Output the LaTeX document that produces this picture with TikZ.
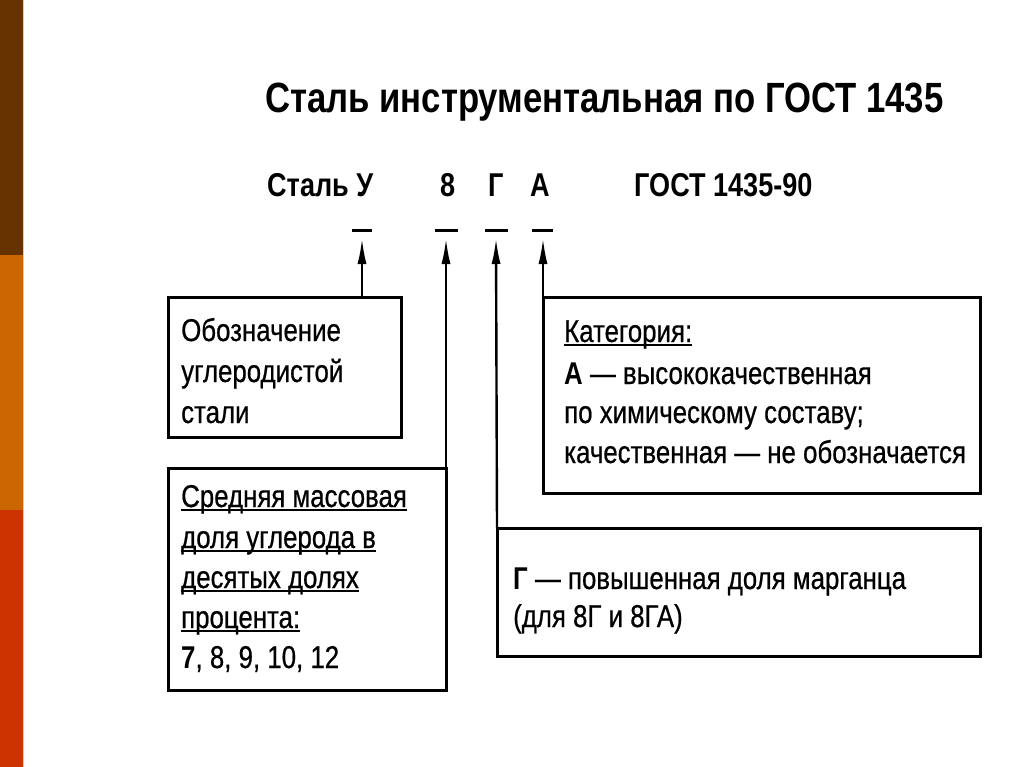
\documentclass[tikz,border=0pt]{standalone}
\usepackage{fontspec}
\setmainfont{Liberation Sans}[FakeStretch=0.82, UprightFeatures={FakeBold=0.6}]
\usetikzlibrary{arrows.meta}
\definecolor{stripA}{HTML}{663300}
\definecolor{stripB}{HTML}{CC6600}
\definecolor{stripC}{HTML}{CC3300}
\definecolor{stripEdge}{HTML}{F2C890}
\newlength\ulwidth
\newcommand\ulin[1]{\settowidth\ulwidth{#1}\rlap{\rule[-4pt]{\ulwidth}{1.8pt}}#1}
\tikzset{
  txt/.style={anchor=base west, inner sep=0pt, font=\fontsize{31.5}{36}\selectfont},
  hdr/.style={anchor=base west, inner sep=0pt, font=\fontsize{33}{38}\selectfont\bfseries},
  ttl/.style={anchor=base west, inner sep=0pt, font=\fontsize{42.3}{48}\selectfont\bfseries},
  boxline/.style={line width=3pt},
  bar/.style={line width=3pt},
  conn/.style={line width=2.4pt, -{Latex[length=26pt,width=9pt]}},
}
\begin{document}
\begin{tikzpicture}[x=1pt,y=-1pt]
\useasboundingbox (0,0) rectangle (1024,767);
\fill[white] (0,0) rectangle (1024,767);
% left strip
\fill[stripA] (0,0) rectangle (23,255);
\fill[stripB] (0,255) rectangle (23,510);
\fill[stripC] (0,510) rectangle (23,767);
\draw[stripEdge, line width=1pt] (23.5,0) -- (23.5,767);

% title
\node[ttl] (title) at (265,113) {Сталь инструментальная по ГОСТ 1435};
% designation line
\node[hdr] (stal) at (267,197) {Сталь У};
\node[hdr] (c8) at (440,197) {8};
\node[hdr] (cG) at (488,197) {Г};
\node[hdr] (cA) at (530,197) {А};
\node[hdr] (gost) at (634,197) {ГОСТ 1435-90};

% bars under the characters
\coordinate (bU) at (362,231);
\coordinate (b8) at (446,231);
\coordinate (bG) at (496,231);
\coordinate (bA) at (543,231);
\draw[bar] ([xshift=-10pt]bU) -- ([xshift=10pt]bU);
\draw[bar] ([xshift=-11pt]b8) -- ([xshift=12pt]b8);
\draw[bar] ([xshift=-11pt]bG) -- ([xshift=12pt]bG);
\draw[bar] ([xshift=-11pt]bA) -- ([xshift=10pt]bA);

% boxes
\draw[boxline] (168,297) rectangle (401,437);
\draw[boxline] (168,468) rectangle (446,690);
\draw[boxline] (543,297) rectangle (980,493);
\draw[boxline] (497,528) rectangle (980,656);
\coordinate (t1) at (362,297);
\coordinate (t2) at (446,468);
\coordinate (t3) at (543,297);
\coordinate (t4) at (497,528);
\coordinate (aU) at (362,238);
\coordinate (a8) at (446,238);
\coordinate (aG) at (496,238);
\coordinate (aA) at (543,238);
\draw[conn] (t1) -- (aU);
\draw[conn] (t2) -- (a8);
\draw[conn] (t4) -- (aG);
\draw[conn] (t3) -- (aA);

% box 1
\node[txt] (b1a) at (181,341) {Обозначение};
\node[txt] (b1b) at (181,382) {углеродистой};
\node[txt] (b1c) at (181,423) {стали};
% box 2
\node[txt] (b2a) at (181,507) {\ulin{Средняя массовая}};
\node[txt] (b2b) at (181,548) {\ulin{доля углерода в}};
\node[txt] (b2c) at (181,588) {\ulin{десятых долях}};
\node[txt] (b2d) at (181,628) {\ulin{процента:}};
\node[txt] (b2e) at (181,668) {\textbf{7}, 8, 9, 10, 12};
% box 3
\node[txt] (b3a) at (564,342) {\ulin{Категория:}};
\node[txt] (b3b) at (564,384) {\textbf{А} — высококачественная};
\node[txt] (b3c) at (564,423) {по химическому составу;};
\node[txt] (b3d) at (564,463) {качественная — не обозначается};
% box 4
\node[txt] (b4a) at (513,589) {\textbf{Г} — повышенная доля марганца};
\node[txt] (b4b) at (513,627) {(для 8Г и 8ГА)};
\end{tikzpicture}
\end{document}
